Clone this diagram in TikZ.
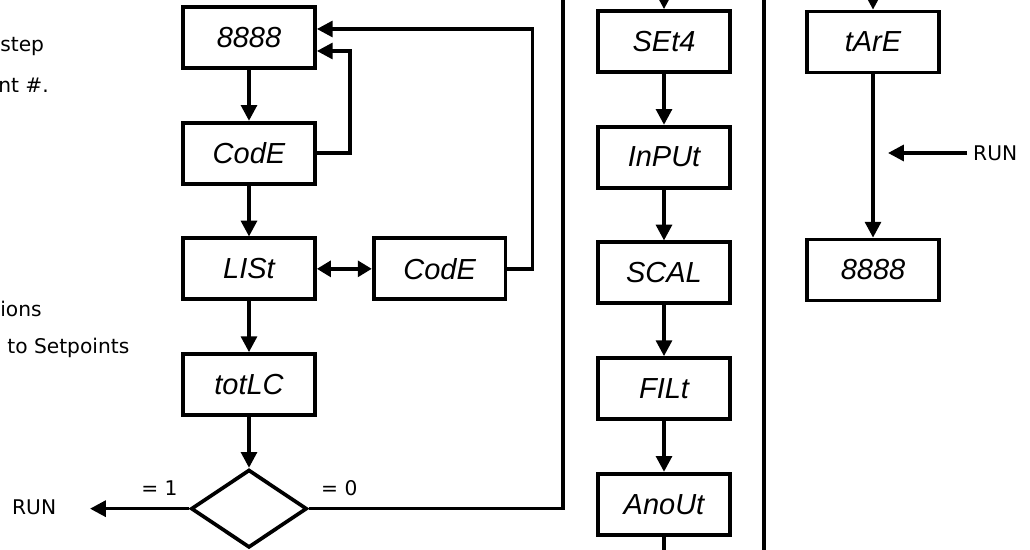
\documentclass[tikz,border=0pt]{standalone}
\usepackage{fontspec}
\setmainfont{DejaVu Sans}
\newfontfamily\segfont{Liberation Sans}
\usetikzlibrary{arrows.meta,positioning,shapes.geometric}

\begin{document}
\begin{tikzpicture}[
  x=0.02cm, y=-0.02cm,
  node distance=1.02cm and 1.1cm,
  disp/.style={draw, line width=2.1pt, minimum width=2.64cm, minimum height=1.22cm, inner sep=0pt, font=\segfont\itshape\fontsize{16.5}{20}\selectfont},
  dec/.style={draw, diamond, line width=2.1pt, minimum width=2.32cm, minimum height=1.56cm, inner sep=0pt},
  lbl/.style={font=\fontsize{11.5}{14}\selectfont},
  line/.style={line width=2pt},
  arrow/.style={line, -{Triangle[length=9pt,width=9pt]}},
  darrow/.style={line, {Triangle[length=8pt,width=9pt]}-{Triangle[length=8pt,width=9pt]}}
]
\useasboundingbox (0,0) rectangle (1030,550);
\clip (0,0) rectangle (1030,550);
\node[disp] (disp1) at (249,37.5) {8888};
\node[disp, below=of disp1] (code1) {CodE};
\node[disp, below=of code1] (list) {LISt};
\node[disp, right=of list] (code2) {CodE};
\node[disp, below=of list] (totlc) {totLC};
\node[dec, below=of totlc] (sel) {};
\node[disp] (set4) at (664,41.5) {SEt4};
\node[disp, below=of set4] (input) {InPUt};
\node[disp, below=of input] (scal) {SCAL};
\node[disp, below=of scal] (filt) {FILt};
\node[disp, below=of filt] (anout) {AnoUt};
\node[disp] (tare) at (873,42) {tArE};
\node[disp] (disp2) at (873,270) {8888};
\node[lbl, anchor=west] (run1) at (6,507) {RUN};
\node[lbl, anchor=west] (run2) at (967,153) {RUN};
\node[lbl, anchor=west, inner sep=0pt] (note1) at (0,47) {step};
\node[lbl, anchor=west, inner sep=0pt] (note2) at (-2,85) {nt \#.};
\node[lbl, anchor=west, inner sep=0pt] (note3) at (0,309) {ions};
\node[lbl, anchor=west, inner sep=0pt] (note4) at (7,348) {to Setpoints};
\coordinate (run1tip) at (90,507);
\coordinate (run2tip) at (888,153);
\coordinate (top0) at (563,-20);
\coordinate (sepT) at (764,-20);
\coordinate (sepB) at (764,570);
\coordinate (set4in) at (664,-30);
\coordinate (tarein) at (873,-30);
\coordinate (anoutout) at (664,570);
\draw[arrow] (disp1) -- (code1);
\draw[arrow] (code1) -- (list);
\draw[arrow] (list) -- (totlc);
\draw[arrow] (totlc) -- (sel);
\draw[darrow] (list) -- (code2);
\draw[arrow] (code1.east) -- ++(33,0) |- ([yshift=-0.27cm]disp1.east);
\draw[arrow] (code2.east) -- ++(25,0) |- ([yshift=0.17cm]disp1.east);
\draw[arrow] (sel.west) -- node[lbl, above=3pt, pos=0.3] {= 1} (sel.west -| run1tip);
\draw[line] (sel.east) -- node[lbl, above=3pt, pos=0.12] {= 0} (sel.east -| top0) -- (top0);
\draw[arrow] (set4in) -- (set4);
\draw[arrow] (set4) -- (input);
\draw[arrow] (input) -- (scal);
\draw[arrow] (scal) -- (filt);
\draw[arrow] (filt) -- (anout);
\draw[line] (anout) -- (anoutout);
\draw[line] (sepT) -- (sepB);
\draw[arrow] (tarein) -- (tare);
\draw[arrow] (tare) -- (disp2);
\draw[arrow] (run2) -- (run2tip);
\end{tikzpicture}
\end{document}
